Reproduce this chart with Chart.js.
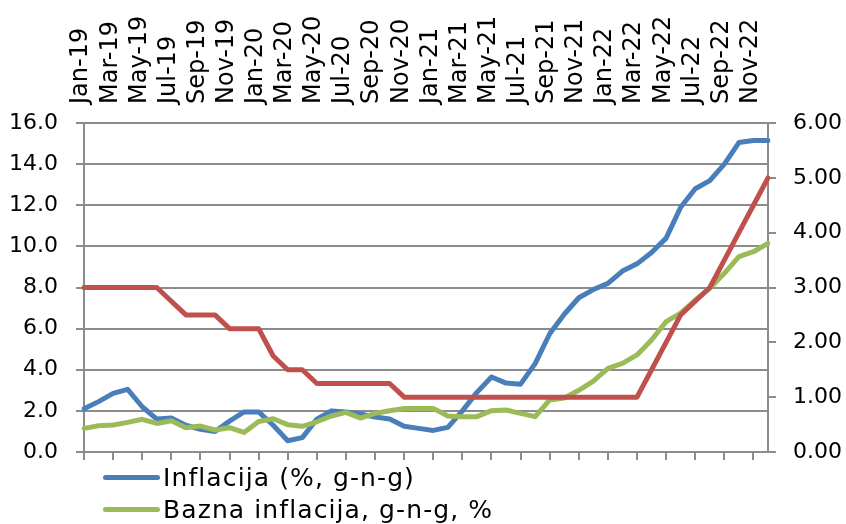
<!DOCTYPE html>
<html>
<head>
<meta charset="utf-8">
<title>Inflacija i referentna kamatna stopa</title>
<script src="https://cdn.jsdelivr.net/npm/chart.js@4.4.1/dist/chart.umd.min.js"></script>
<style>
  html, body { margin: 0; padding: 0; background: #fff; }
  #wrap { position: relative; width: 846px; height: 524px; overflow: hidden; }
  #chart { position: absolute; left: 0; top: 0; }
  .legend-item {
    position: absolute;
    left: 103px;
    height: 32px;
    display: flex;
    align-items: center;
    font-family: 'DejaVu Sans', sans-serif;
    font-size: 25px;
    letter-spacing: 1.1px;
    color: #000;
    white-space: nowrap;
  }
  .legend-item .swatch {
    display: inline-block;
    width: 57px;
    height: 5px;
    border-radius: 3px;
    margin-right: 3px;
  }
</style>
</head>
<body>
<div id="wrap">
  <canvas id="chart" width="846" height="524"></canvas>
  <div id="legend"></div>
</div>
<script>
// months, Jan-19 .. Dec-22
const months = [
  'Jan-19', 'Feb-19', 'Mar-19', 'Apr-19', 'May-19', 'Jun-19', 'Jul-19', 'Aug-19', 'Sep-19', 'Oct-19', 'Nov-19', 'Dec-19',
  'Jan-20', 'Feb-20', 'Mar-20', 'Apr-20', 'May-20', 'Jun-20', 'Jul-20', 'Aug-20', 'Sep-20', 'Oct-20', 'Nov-20', 'Dec-20',
  'Jan-21', 'Feb-21', 'Mar-21', 'Apr-21', 'May-21', 'Jun-21', 'Jul-21', 'Aug-21', 'Sep-21', 'Oct-21', 'Nov-21', 'Dec-21',
  'Jan-22', 'Feb-22', 'Mar-22', 'Apr-22', 'May-22', 'Jun-22', 'Jul-22', 'Aug-22', 'Sep-22', 'Oct-22', 'Nov-22', 'Dec-22'
];

// left axis
const inflacija = [
  2.1, 2.45, 2.85, 3.05, 2.2, 1.6, 1.65, 1.3, 1.1, 1.0, 1.5, 1.95,
  1.95, 1.3, 0.55, 0.7, 1.6, 2.0, 1.95, 1.85, 1.7, 1.6, 1.25, 1.15,
  1.05, 1.2, 2.0, 2.9, 3.65, 3.35, 3.3, 4.3, 5.75, 6.7, 7.5, 7.9,
  8.2, 8.8, 9.15, 9.7, 10.4, 11.9, 12.8, 13.2, 14.0, 15.05, 15.15, 15.15
];

const bazna = [
  1.15, 1.28, 1.31, 1.44, 1.59, 1.39, 1.52, 1.18, 1.26, 1.07, 1.18, 0.95,
  1.48, 1.62, 1.33, 1.25, 1.47, 1.75, 1.93, 1.65, 1.88, 2.01, 2.12, 2.12,
  2.12, 1.75, 1.72, 1.72, 2.01, 2.04, 1.88, 1.72, 2.53, 2.63, 3.0, 3.45,
  4.07, 4.31, 4.72, 5.45, 6.34, 6.75, 7.39, 7.96, 8.69, 9.5, 9.74, 10.15
];

// right axis
const referentna = [
  3.0, 3.0, 3.0, 3.0, 3.0, 3.0, 2.75, 2.5, 2.5, 2.5, 2.25, 2.25,
  2.25, 1.75, 1.5, 1.5, 1.25, 1.25, 1.25, 1.25, 1.25, 1.25, 1.0, 1.0,
  1.0, 1.0, 1.0, 1.0, 1.0, 1.0, 1.0, 1.0, 1.0, 1.0, 1.0, 1.0,
  1.0, 1.0, 1.0, 1.5, 2.0, 2.5, 2.75, 3.0, 3.5, 4.0, 4.5, 5.0
];

const leftTicks = [0, 2, 4, 6, 8, 10, 12, 14, 16];
const rightTicks = [0, 1, 2, 3, 4, 5, 6];

const GRAY = '#8c8c8c';
const FONT = "'DejaVu Sans', sans-serif";

Chart.defaults.font.family = FONT;
Chart.defaults.color = '#000';

const series = [
  {label: 'Inflacija (%, g-n-g)', data: inflacija, color: '#4a7ebb', axis: 'y', order: 3},
  {label: 'Bazna inflacija, g-n-g, %', data: bazna, color: '#9bbb59', axis: 'y', order: 2},
  {label: 'Referentna kamatna stopa, % (desna osa)', data: referentna, color: '#c0504d', axis: 'y1', order: 1}
];

const chart = new Chart(document.getElementById('chart'), {
  type: 'line',
  data: {
    labels: months,
    datasets: series.map(s => ({
      label: s.label,
      data: s.data,
      yAxisID: s.axis,
      order: s.order,
      borderColor: s.color,
      backgroundColor: s.color,
      borderWidth: 5,
      borderJoinStyle: 'round',
      borderCapStyle: 'round',
      pointRadius: 0,
      pointHoverRadius: 0,
      tension: 0,
      fill: false
    }))
  },
  options: {
    responsive: false,
    animation: false,
    layout: {padding: 0},
    plugins: {
      legend: {display: false},
      tooltip: {enabled: false}
    },
    scales: {
      x: {
        position: 'top',
        offset: false,
        grid: {display: false},
        border: {display: false},
        ticks: {
          autoSkip: false,
          minRotation: 90,
          maxRotation: 90,
          padding: 11,
          labelOffset: 26,
          font: {size: 24},
          callback: (v, i) => (i % 2 === 0 ? months[i] : null)
        },
        afterFit: s => { s.height = 123; }
      },
      x2: {
        type: 'category',
        position: 'bottom',
        offset: false,
        grid: {
          drawOnChartArea: false,
          drawTicks: true,
          tickLength: 8,
          lineWidth: 2,
          color: ctx => (ctx.index % 2 === 0 ? GRAY : 'rgba(0,0,0,0)')
        },
        border: {color: GRAY, width: 2},
        ticks: {display: false, autoSkip: false},
        afterFit: s => { s.height = 72; }
      },
      y: {
        position: 'left',
        min: leftTicks[0],
        max: leftTicks[leftTicks.length - 1],
        afterBuildTicks: s => { s.ticks = leftTicks.map(v => ({value: v})); },
        grid: {color: GRAY, lineWidth: 2, tickLength: 8},
        border: {color: GRAY, width: 2},
        ticks: {
          padding: 18,
          font: {size: 22},
          callback: v => Number(v).toFixed(1)
        },
        afterFit: s => { s.width = 84; }
      },
      y1: {
        position: 'right',
        min: rightTicks[0],
        max: rightTicks[rightTicks.length - 1],
        afterBuildTicks: s => { s.ticks = rightTicks.map(v => ({value: v})); },
        grid: {drawOnChartArea: false, color: GRAY, lineWidth: 2, tickLength: 8},
        border: {color: GRAY, width: 2},
        ticks: {
          padding: 17,
          font: {size: 22},
          callback: v => Number(v).toFixed(2)
        },
        afterFit: s => { s.width = 78; }
      }
    }
  }
});

// legend stacked one item per row, like the original; the last row falls below the picture
const legendEl = document.getElementById('legend');
const rowTops = [461, 493, 525];
series.forEach((s, i) => {
  const item = document.createElement('div');
  item.className = 'legend-item';
  item.style.top = rowTops[i] + 'px';
  const sw = document.createElement('span');
  sw.className = 'swatch';
  sw.style.background = s.color;
  const txt = document.createElement('span');
  txt.textContent = s.label;
  item.appendChild(sw);
  item.appendChild(txt);
  legendEl.appendChild(item);
});
</script>
</body>
</html>
